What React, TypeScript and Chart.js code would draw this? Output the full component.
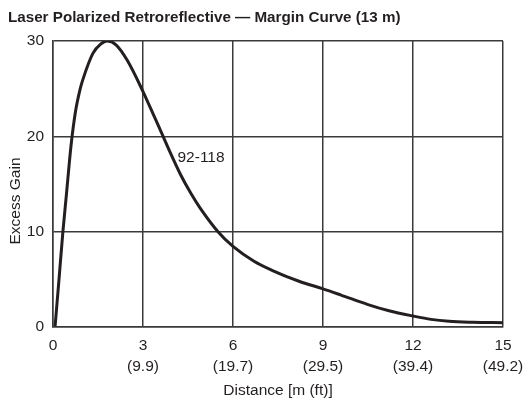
import React, { useEffect, useRef } from "react";
import { Chart, registerables } from "chart.js";

Chart.register(...registerables);

const TITLE = "Laser Polarized Retroreflective — Margin Curve (13 m)";
const X_TITLE = "Distance [m (ft)]";
const Y_TITLE = "Excess Gain";
const CURVE_LABEL = "92-118";
const CURVE_LABEL_POS = { x: 4.15, y: 17.8 };

const X_TICKS = [0, 3, 6, 9, 12, 15];
const X_TICK_FEET = ["", "(9.9)", "(19.7)", "(29.5)", "(39.4)", "(49.2)"];
const Y_TICKS = [0, 10, 20, 30];

const distance = [0.07, 0.2, 0.33, 0.45, 0.6, 0.75, 0.9, 1.0, 1.33, 1.6, 1.8, 2.1, 2.47, 3.0, 3.4, 3.67, 3.85, 4.25, 4.6, 4.9, 5.5, 6.0, 6.7, 7.3, 8.2, 9.0, 9.6, 10.5, 11.2, 12.0, 12.6, 13.2, 14.0, 15.0];
const excessGain = [0.1, 5, 10, 14, 19, 22.6, 24.9, 26, 28.7, 29.7, 30, 29.6, 28.0, 24.7, 21.9, 20, 18.7, 16.0, 14.0, 12.5, 10, 8.45, 6.9, 5.95, 4.8, 4.0, 3.35, 2.35, 1.7, 1.15, 0.8, 0.6, 0.5, 0.45];

const FONT = "'Liberation Sans', Arial, sans-serif";
const FS = 15.5;
const INK = "#231f20";
const GRID = "#3a3a3a";

export default function App() {
  const ref = useRef<HTMLCanvasElement | null>(null);

  useEffect(() => {
    if (!ref.current) return;
    const textPlugin = {
      id: "textPlugin",
      afterDraw(chart: any) {
        const ctx = chart.ctx;
        const xs = chart.scales.x;
        const ys = chart.scales.y;
        ctx.save();
        ctx.fillStyle = INK;
        ctx.font = `bold 15.2px ${FONT}`;
        ctx.textAlign = "left";
        ctx.textBaseline = "middle";
        ctx.fillText(TITLE, 8, 18);
        ctx.font = `${FS}px ${FONT}`;
        ctx.fillText(CURVE_LABEL, xs.getPixelForValue(CURVE_LABEL_POS.x), ys.getPixelForValue(CURVE_LABEL_POS.y));
        ctx.translate(16, 201);
        ctx.rotate(-Math.PI / 2);
        ctx.textAlign = "center";
        ctx.fillText(Y_TITLE, 0, 0);
        ctx.restore();
      },
    };
    const chart = new Chart(ref.current, {
      type: "scatter",
      data: {
        datasets: [
          {
            data: distance.map((d, i) => ({ x: d, y: excessGain[i] })),
            showLine: true,
            borderColor: INK,
            borderWidth: 3,
            pointRadius: 0,
            cubicInterpolationMode: "monotone",
            fill: false,
          },
        ],
      },
      options: {
        animation: false,
        responsive: false,
        layout: { padding: { left: 0, right: 20, top: 41, bottom: 0 } },
        plugins: { legend: { display: false }, title: { display: false }, tooltip: { enabled: false } },
        scales: {
          x: {
            type: "linear",
            min: 0,
            max: 15,
            afterBuildTicks: (s: any) => {
              s.ticks = X_TICKS.map((v) => ({ value: v }));
            },
            afterFit: (s: any) => {
              s.height = 80;
              s.paddingLeft = 0;
              s.paddingRight = 0;
            },
            grid: { color: GRID, lineWidth: 1.5, drawTicks: false },
            border: { color: GRID, width: 1.5 },
            ticks: {
              color: INK,
              font: { family: FONT, size: FS, lineHeight: 1.35 },
              padding: 8,
              maxRotation: 0,
              autoSkip: false,
              callback: (v: any) => {
                const i = X_TICKS.indexOf(Number(v));
                return i > 0 ? [String(v), X_TICK_FEET[i]] : String(v);
              },
            },
            title: {
              display: true,
              text: X_TITLE,
              color: INK,
              font: { family: FONT, size: FS, lineHeight: 1.2 },
              padding: { top: 0, bottom: 7 },
            },
          },
          y: {
            type: "linear",
            min: 0,
            max: 30,
            afterBuildTicks: (s: any) => {
              s.ticks = Y_TICKS.map((v) => ({ value: v }));
            },
            afterFit: (s: any) => {
              s.width = 53;
            },
            grid: { color: GRID, lineWidth: 1.5, drawTicks: false },
            border: { color: GRID, width: 1.5 },
            ticks: {
              color: INK,
              font: { family: FONT, size: FS },
              padding: 9,
            },
          },
        },
      },
      plugins: [textPlugin],
    });
    return () => chart.destroy();
  }, []);

  return (
    <div style={{ position: "fixed", left: 0, top: 0, width: 523, height: 407, background: "#fff" }}>
      <canvas ref={ref} width={523} height={407} style={{ width: 523, height: 407 }} />
    </div>
  );
}
